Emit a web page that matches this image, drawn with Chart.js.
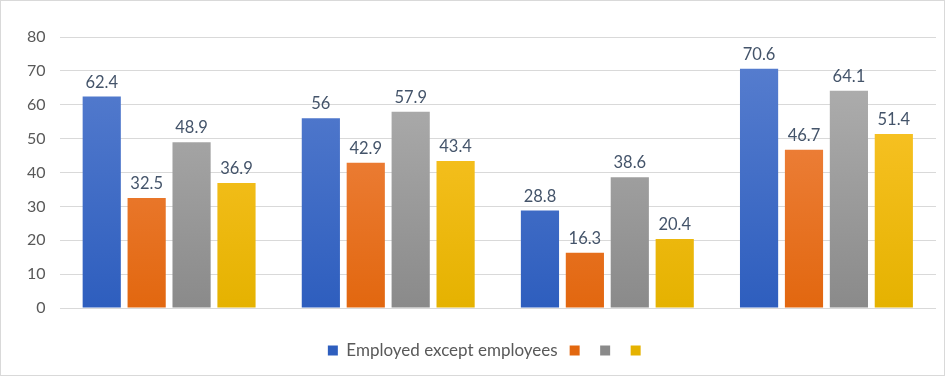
<!DOCTYPE html>
<html>
<head>
<meta charset="utf-8">
<script src="https://cdn.jsdelivr.net/npm/chart.js@4"></script>
<style>
  html, body { margin: 0; padding: 0; background: #fff; }
  #wrap { position: relative; width: 943px; height: 374px; border: 1px solid #d9d9d9; }
</style>
</head>
<body>
<div id="wrap"><canvas id="chart"></canvas></div>
<script>
const categories = ["1", "2", "3", "4"];
const seriesNames = ["Employed except employees", "", "", ""];
const seriesA = [62.4, 56, 28.8, 70.6];
const seriesB = [32.5, 42.9, 16.3, 46.7];
const seriesC = [48.9, 57.9, 38.6, 64.1];
const seriesD = [36.9, 43.4, 20.4, 51.4];
const yTicks = [0, 10, 20, 30, 40, 50, 60, 70, 80];

// top / bottom colours of each bar gradient
const palette = [
  ["#5a80d0", "#2e5ebe"],
  ["#f28c50", "#e2670f"],
  ["#b4b4b4", "#8a8a8a"],
  ["#ffc833", "#e5b200"],
];

const FONT = "Lato, 'Open Sans', sans-serif";

function gradient(i) {
  return (context) => {
    const { ctx, chartArea } = context.chart;
    if (!chartArea) return palette[i][1];
    const g = ctx.createLinearGradient(0, chartArea.top, 0, chartArea.bottom);
    g.addColorStop(0, palette[i][0]);
    g.addColorStop(1, palette[i][1]);
    return g;
  };
}

// values above the bars
const valueLabels = {
  id: "valueLabels",
  afterDatasetsDraw(chart) {
    const ctx = chart.ctx;
    ctx.save();
    ctx.fillStyle = "#44546a";
    ctx.font = "16.5px " + FONT;
    ctx.textAlign = "center";
    ctx.textBaseline = "bottom";
    chart.data.datasets.forEach((ds, i) => {
      chart.getDatasetMeta(i).data.forEach((bar, j) => {
        ctx.fillText(String(ds.data[j]), bar.x, bar.y - 6);
      });
    });
    ctx.restore();
  },
};

// legend sits a little right of centre in the original
const legendShift = {
  id: "legendShift",
  afterLayout(chart) {
    chart.legend.left += 14;
    chart.legend.right += 14;
  },
};

const allSeries = [seriesA, seriesB, seriesC, seriesD];

new Chart(document.getElementById("chart"), {
  type: "bar",
  data: {
    labels: categories,
    datasets: allSeries.map((values, i) => ({
      label: seriesNames[i],
      data: values,
      backgroundColor: gradient(i),
      borderWidth: 0,
      barPercentage: 0.85,
      categoryPercentage: 0.82,
    })),
  },
  options: {
    responsive: true,
    maintainAspectRatio: false,
    animation: false,
    layout: { padding: { top: 36, right: 8, left: 12, bottom: 6 } },
    plugins: {
      tooltip: { enabled: false },
      legend: {
        position: "bottom",
        labels: {
          boxWidth: 10,
          boxHeight: 10,
          padding: 12,
          color: "#595959",
          font: { size: 17, family: FONT },
          generateLabels: (chart) =>
            chart.data.datasets.map((ds, i) => ({
              text: ds.label,
              fillStyle: palette[i][1],
              strokeStyle: palette[i][1],
              lineWidth: 0,
              fontColor: "#595959",
              datasetIndex: i,
            })),
        },
      },
    },
    scales: {
      x: {
        grid: { display: false },
        border: { display: false },
        ticks: { display: false },
        afterFit: (axis) => {
          axis.height = 22;
        },
      },
      y: {
        min: 0,
        max: 80,
        afterBuildTicks: (axis) => {
          axis.ticks = yTicks.map((v) => ({ value: v }));
        },
        grid: { color: "#d9d9d9", drawTicks: false },
        border: { display: false },
        ticks: {
          padding: 14,
          color: "#595959",
          font: { size: 16, family: FONT },
        },
      },
    },
  },
  plugins: [valueLabels, legendShift],
});
</script>
</body>
</html>
